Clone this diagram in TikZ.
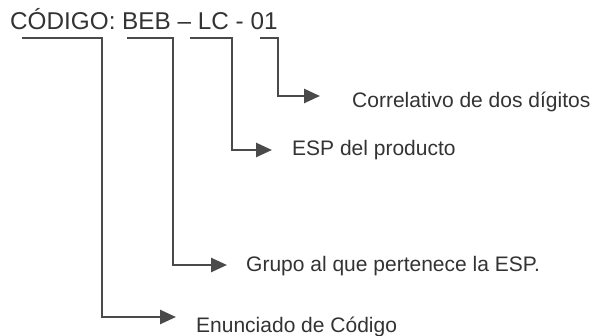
\documentclass[tikz,border=0pt]{standalone}
\usepackage{fontspec}
\setmainfont{Liberation Sans}
\usetikzlibrary{arrows.meta}
\definecolor{ink}{HTML}{333333}
\definecolor{wire}{HTML}{4A4A4A}
\tikzset{
  conn/.style={draw=wire, line width=2.6pt, -{Triangle[length=16pt,width=14pt]}},
  lab/.style={anchor=west, inner sep=0pt, text=ink, font=\fontsize{21}{24}\selectfont},
  ttl/.style={anchor=base west, inner sep=0pt, text=ink, font=\fontsize{24.3}{28}\selectfont}
}
\begin{document}
\begin{tikzpicture}[x=1pt,y=-1pt]
\useasboundingbox (0,0) rectangle (600,336);
\node[ttl] (title) at (10,30) {CÓDIGO: BEB – LC - 01};
% bracket starts and corners
\coordinate (a1) at (22,38);  \coordinate (b1) at (102,38);  \coordinate (t1) at (176,317);
\coordinate (a2) at (127,38); \coordinate (b2) at (173,38);  \coordinate (t2) at (227,265);
\coordinate (a3) at (190,38); \coordinate (b3) at (232,38);  \coordinate (t3) at (272,150);
\coordinate (a4) at (260,38); \coordinate (b4) at (278,38);  \coordinate (t4) at (320,96);
% labels
\node[lab] (l1) at (196,327) {Enunciado de Código};
\node[lab] (l2) at (246,266) {Grupo al que pertenece la ESP.};
\node[lab] (l3) at (292,150) {ESP del producto};
\node[lab] (l4) at (352,102) {Correlativo de dos dígitos};
% connectors
\draw[conn] (a1) -- (b1) |- (t1);
\draw[conn] (a2) -- (b2) |- (t2);
\draw[conn] (a3) -- (b3) |- (t3);
\draw[conn] (a4) -- (b4) |- (t4);
\end{tikzpicture}
\end{document}
